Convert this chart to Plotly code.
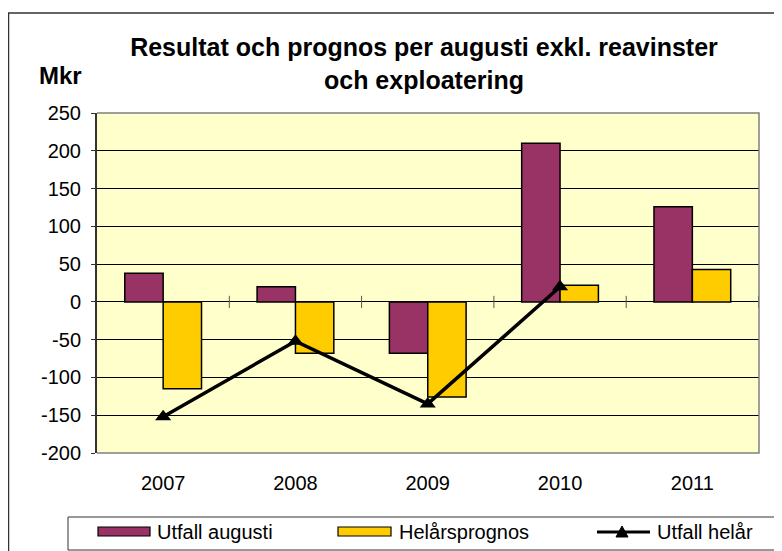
import plotly.graph_objects as go

# ---- data ----
years = ["2007", "2008", "2009", "2010", "2011"]
utfall_augusti = [38, 20, -68, 210, 126]
helarsprognos = [-115, -68, -126, 22, 43]
utfall_helar = [-152, -52, -135, 20, None]
series_names = ["Utfall augusti", "Helårsprognos", "Utfall helår"]
y_ticks = [250, 200, 150, 100, 50, 0, -50, -100, -150, -200]

title_text = "Resultat och prognos per augusti exkl. reavinster<br>och exploatering"
unit_text = "Mkr"

# ---- style ----
W, H = 782, 551
OFF = 8  # page offset of the figure (body margin)
L, T = 97 - OFF, 113 - OFF
R = W - (759 - OFF)
B = H - (453 - OFF)
PW, PH = W - L - R, H - T - B
C_AUG = "#993366"
C_PROG = "#FFCC00"
FONT = "Arial, Liberation Sans, sans-serif"


def px(xp):
    return (xp - OFF - L) / PW


def py(yp):
    return (H - B - (yp - OFF)) / PH


fig = go.Figure()
fig.add_trace(go.Bar(x=years, y=utfall_augusti, name=series_names[0],
                     marker=dict(color=C_AUG, line=dict(color="black", width=1.5)),
                     showlegend=False))
fig.add_trace(go.Bar(x=years, y=helarsprognos, name=series_names[1],
                     marker=dict(color=C_PROG, line=dict(color="black", width=1.5)),
                     showlegend=False))
fig.add_trace(go.Scatter(x=years, y=utfall_helar, name=series_names[2], mode="lines+markers",
                         line=dict(color="black", width=3.5),
                         marker=dict(symbol="triangle-up", size=14, color="black"),
                         showlegend=False, connectgaps=False))

shapes = []
# category tick marks crossing the zero line
for i in range(len(years)):
    shapes.append(dict(type="line", xref="x", yref="y", x0=i + 0.5, x1=i + 0.5, y0=-8, y1=8,
                       line=dict(color="#555555", width=1), layer="above"))
# plot border (top, right, bottom) in gray
shapes.append(dict(type="path", xref="paper", yref="paper",
                   path="M 0,1 L 1,1 L 1,0 L 0,0",
                   line=dict(color="#808080", width=1.5), layer="above"))
# outer chart border
shapes.append(dict(type="rect", xref="paper", yref="paper",
                   x0=px(8.5), x1=px(800), y0=py(13), y1=py(600),
                   line=dict(color="#333333", width=1.5), layer="below"))
# legend box
shapes.append(dict(type="rect", xref="paper", yref="paper",
                   x0=px(68), x1=px(776), y0=py(517), y1=py(550),
                   line=dict(color="#333333", width=1), fillcolor="white", layer="below"))
# legend symbols
shapes.append(dict(type="rect", xref="paper", yref="paper",
                   x0=px(98), x1=px(150), y0=py(536), y1=py(527),
                   fillcolor=C_AUG, line=dict(color="black", width=1.2)))
shapes.append(dict(type="rect", xref="paper", yref="paper",
                   x0=px(338), x1=px(391), y0=py(536), y1=py(527),
                   fillcolor=C_PROG, line=dict(color="black", width=1.2)))
shapes.append(dict(type="line", xref="paper", yref="paper",
                   x0=px(597), x1=px(650), y0=py(532), y1=py(532),
                   line=dict(color="black", width=3)))
shapes.append(dict(type="path", xref="paper", yref="paper",
                   path=f"M {px(616)},{py(537)} L {px(628)},{py(537)} L {px(622)},{py(526)} Z",
                   fillcolor="black", line=dict(color="black", width=1)))

annotations = [
    dict(text=f"<b>{unit_text}</b>", xref="paper", yref="paper", x=px(60), y=py(76),
         xanchor="center", yanchor="middle", showarrow=False,
         font=dict(family=FONT, size=24, color="black")),
]
for name, xstart in zip(series_names, [155, 397, 655]):
    annotations.append(dict(text=name, xref="paper", yref="paper", x=px(xstart), y=py(532),
                            xanchor="left", yanchor="middle", showarrow=False,
                            font=dict(family=FONT, size=20, color="black")))

fig.update_layout(
    width=W, height=H,
    margin=dict(l=L, r=R, t=T, b=B, pad=0),
    paper_bgcolor="white",
    plot_bgcolor="#FFFFCC",
    barmode="group", bargap=0.42, bargroupgap=0,
    title=dict(text=f"<b>{title_text}</b>", x=px(424), xref="paper", xanchor="center",
               y=1 - 48 / H, yref="container", yanchor="top",
               font=dict(family=FONT, size=25, color="black")),
    font=dict(family=FONT, size=20, color="black"),
    xaxis=dict(type="category", showgrid=False, zeroline=False, showline=False,
               ticks="", ticklabelstandoff=16,
               tickfont=dict(family=FONT, size=20, color="black")),
    yaxis=dict(range=[-200, 250], tickvals=y_ticks, ticktext=[str(v) for v in y_ticks],
               showgrid=True, gridcolor="black", gridwidth=1,
               zeroline=True, zerolinecolor="black", zerolinewidth=1,
               showline=True, linecolor="#333333", linewidth=2,
               ticks="outside", ticklen=4, tickcolor="#333333",
               ticklabelstandoff=6,
               tickfont=dict(family=FONT, size=20, color="black")),
    shapes=shapes,
    annotations=annotations,
)

fig.write_html("out.html")
